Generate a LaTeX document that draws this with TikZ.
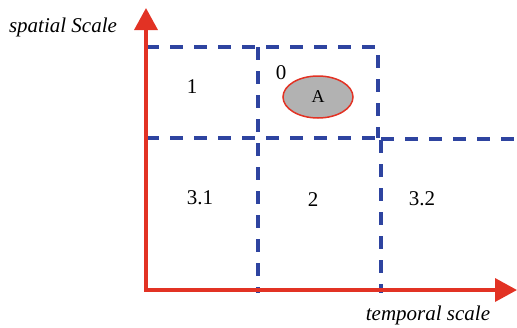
\documentclass[tikz,border=0pt]{standalone}
\usepackage{fontspec}
\setmainfont{Liberation Serif}
\usetikzlibrary{arrows.meta,shapes.geometric}
\definecolor{axred}{RGB}{226,50,36}
\definecolor{dblue}{RGB}{46,68,160}
\definecolor{egray}{RGB}{178,178,178}
\tikzset{
  axis/.style={draw=axred, line width=3.6pt, -{Triangle[width=23pt,length=22pt]}},
  grid/.style={draw=dblue, line width=3.3pt, dash pattern=on 13pt off 11pt},
  lbl/.style={font=\fontsize{21}{21}\selectfont, inner sep=0pt},
  axlbl/.style={font=\fontsize{21}{21}\selectfont\itshape, inner sep=0pt},
  ell/.style={ellipse, draw=axred, fill=egray, line width=1.5pt, minimum width=70pt, minimum height=42pt, inner sep=0pt, font=\fontsize{18}{18}\selectfont}
}
\begin{document}
\begin{tikzpicture}[x=1pt,y=-1pt]
\useasboundingbox (0,0) rectangle (517,327);
% grid
\draw[grid] (146,47) -- (378,47) -- (378,138);
\draw[grid] (146,138) -- (378,138);
\draw[grid] (258,47) -- (258,293);
\draw[grid] (381,140) -- (381,293);
\draw[grid] (381,139) -- (517,139);
% axes
\coordinate (origin) at (146,290);
\coordinate (ytip) at (146,8);
\coordinate (xtip) at (517,290);
\draw[axis] (144.2,290) -- (xtip);
\draw[axis] (origin) -- (ytip);
% labels
\node[axlbl] (ys) at (63,27) {spatial Scale};
\node[axlbl] (xs) at (428,315) {temporal scale};
\node[lbl] (c1) at (192,87) {1};
\node[lbl] (c0) at (281,73) {0};
\node[ell] (A) at (318,97) {A};
\node[lbl] (c31) at (200,198) {3.1};
\node[lbl] (c2) at (313,200) {2};
\node[lbl] (c32) at (422,199) {3.2};
\end{tikzpicture}
\end{document}
